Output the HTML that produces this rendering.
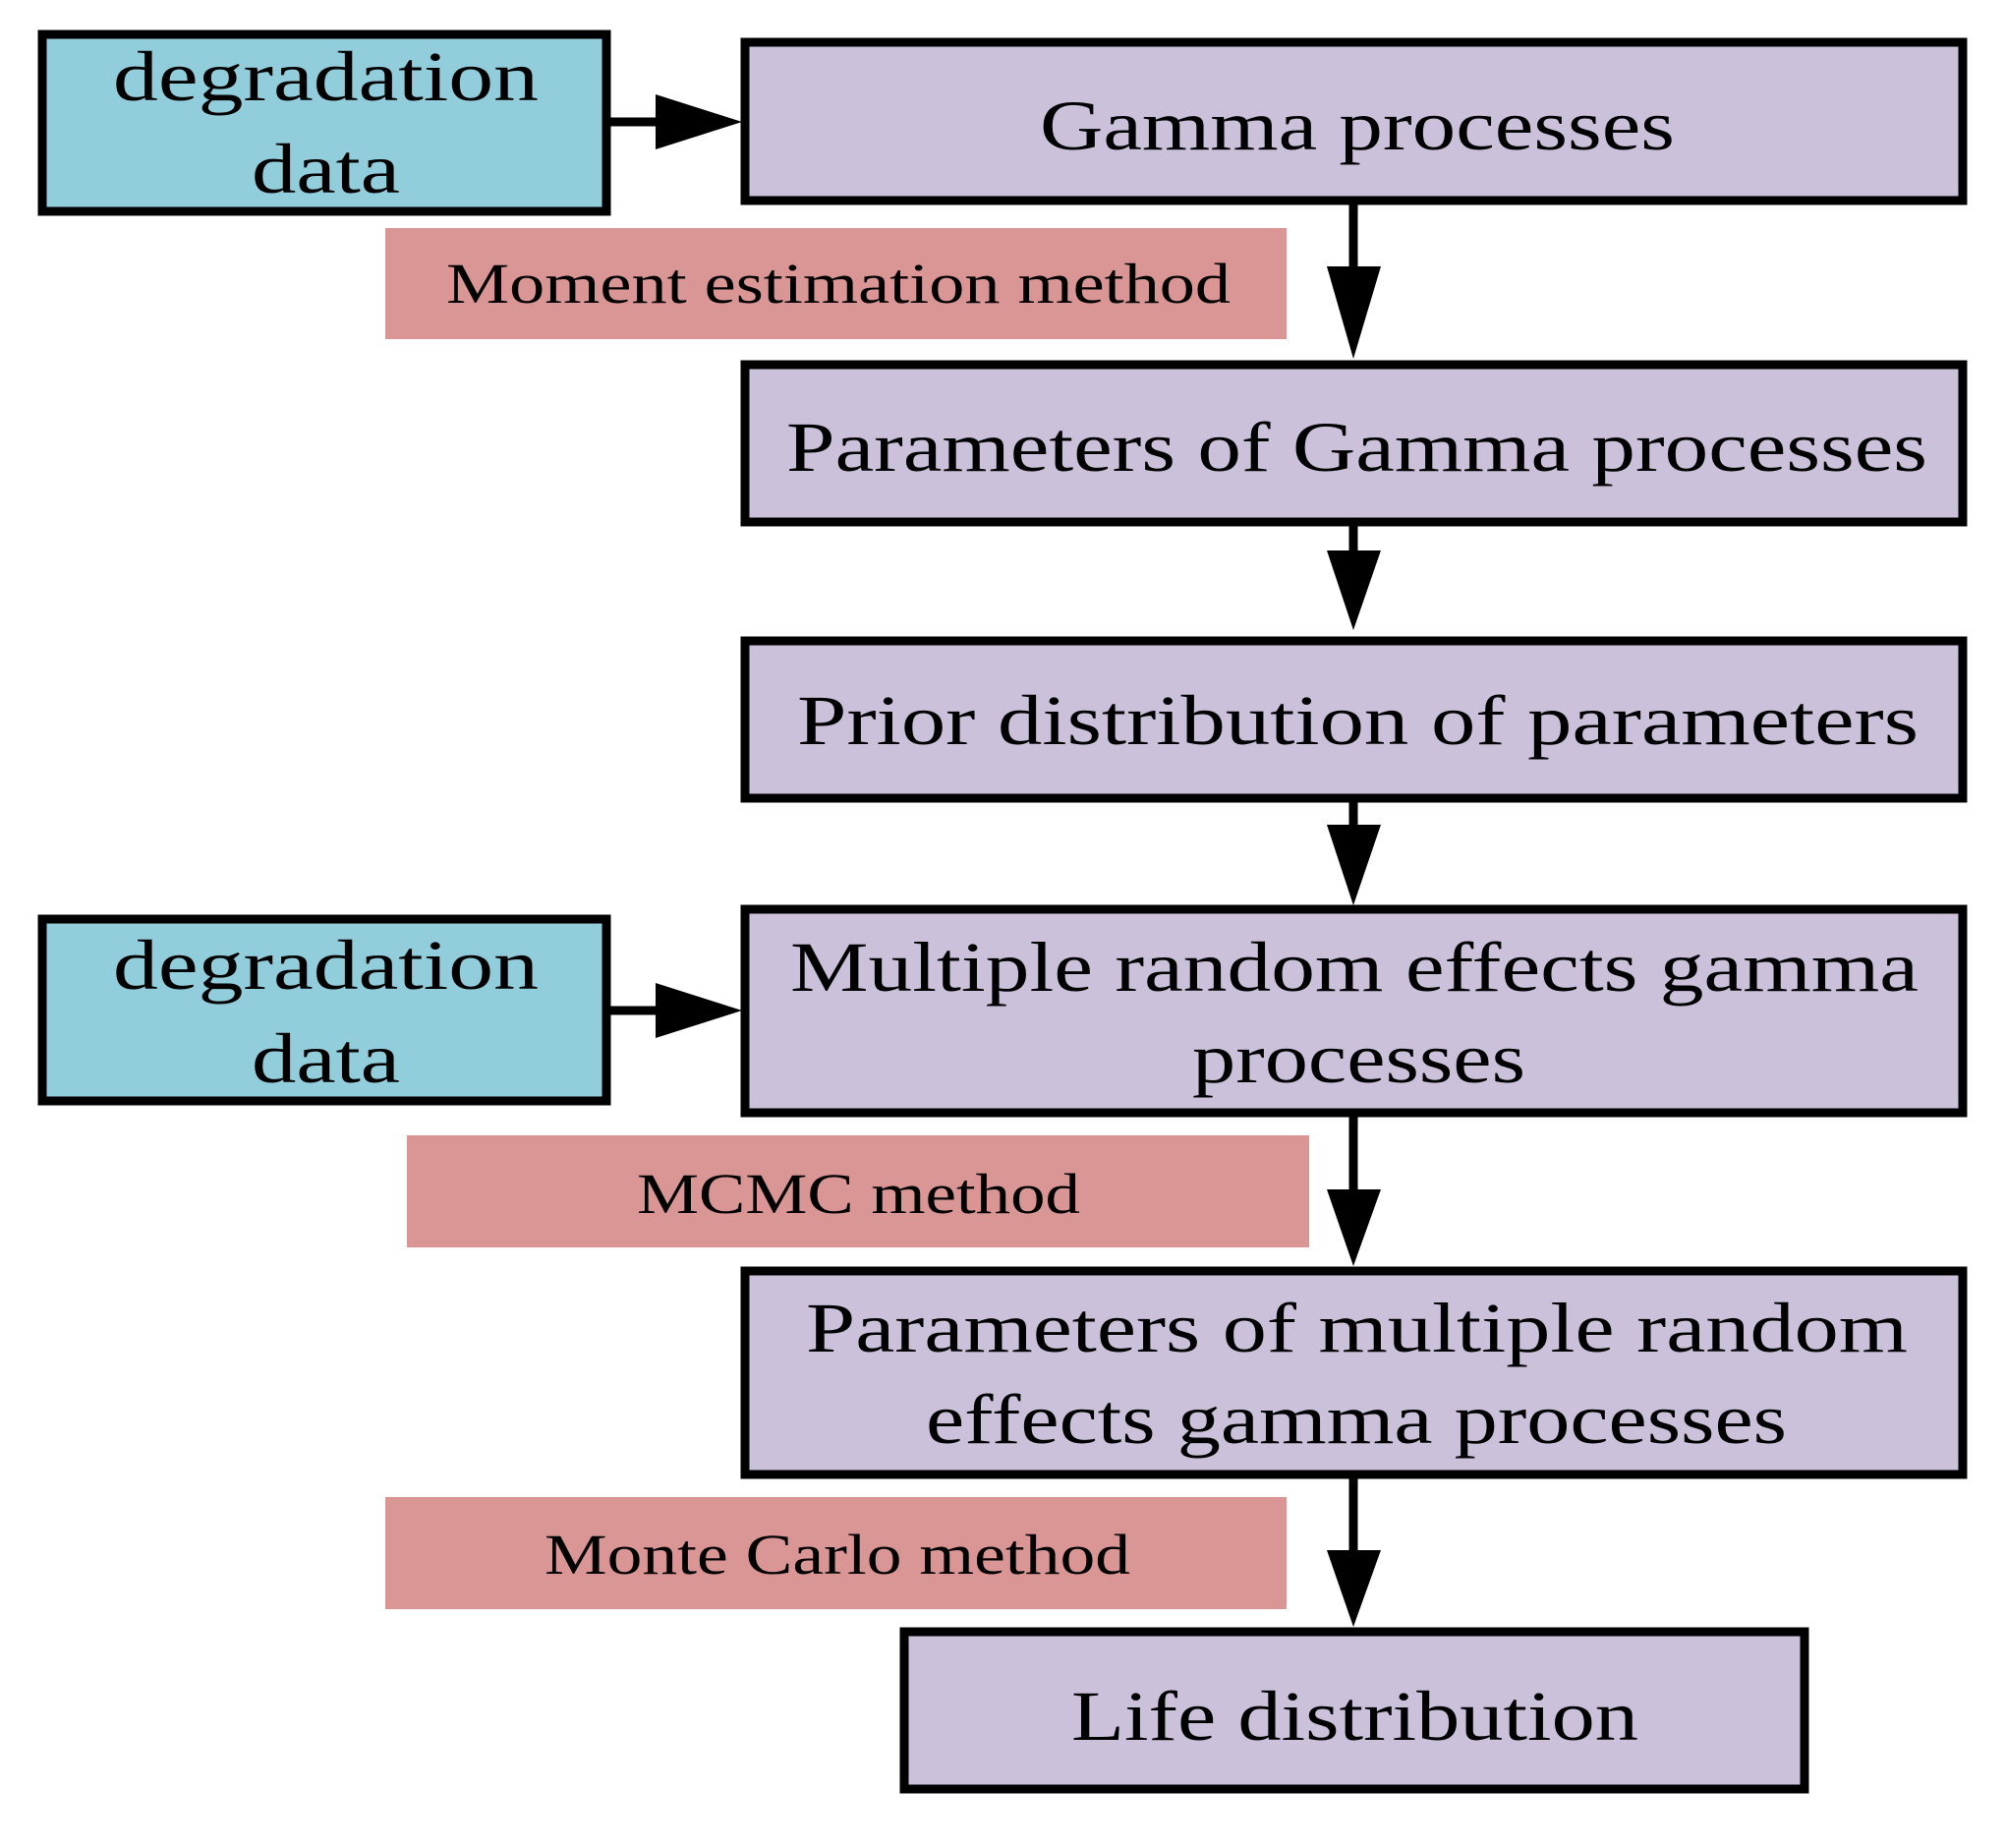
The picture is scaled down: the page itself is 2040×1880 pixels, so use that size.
<!DOCTYPE html>
<html><head><meta charset="utf-8"><style>html,body{margin:0;padding:0;background:#fff}svg{display:block}</style></head>
<body>
<svg width="2040" height="1880" viewBox="0 0 2040 1880" xmlns="http://www.w3.org/2000/svg" font-family="'Liberation Serif', serif" fill="#000">
<g stroke="#000" stroke-width="9">
<rect x="43" y="35" width="574" height="180" fill="#92CDDC"/>
<rect x="758" y="43" width="1239" height="161" fill="#CCC1DA"/>
<rect x="758" y="371" width="1239" height="160" fill="#CCC1DA"/>
<rect x="758" y="652" width="1239" height="160" fill="#CCC1DA"/>
<rect x="758" y="925" width="1239" height="207" fill="#CCC1DA"/>
<rect x="43" y="935" width="574" height="185" fill="#92CDDC"/>
<rect x="758" y="1293" width="1239" height="207" fill="#CCC1DA"/>
<rect x="920" y="1660" width="916" height="160" fill="#CCC1DA"/>
<line x1="617" y1="124" x2="670" y2="124"/>
<line x1="617" y1="1028" x2="670" y2="1028"/>
<line x1="1377" y1="204" x2="1377" y2="275"/>
<line x1="1377" y1="531" x2="1377" y2="562"/>
<line x1="1377" y1="812" x2="1377" y2="842"/>
<line x1="1377" y1="1132" x2="1377" y2="1212"/>
<line x1="1377" y1="1500" x2="1377" y2="1580"/>
</g>
<rect x="392" y="232" width="917" height="113" fill="#D99694"/>
<rect x="414" y="1155" width="918" height="114" fill="#D99694"/>
<rect x="392" y="1523" width="917" height="114" fill="#D99694"/>
<polygon points="667,96 755,124 667,152"/>
<polygon points="667,1000 755,1028 667,1056"/>
<polygon points="1350,271 1405,271 1377,365"/>
<polygon points="1350,560 1405,560 1377,641"/>
<polygon points="1350,839 1405,839 1377,921"/>
<polygon points="1350,1210 1405,1210 1377,1288"/>
<polygon points="1350,1577 1405,1577 1377,1655"/>
<g font-size="72">
<text x="115" y="102" textLength="433" lengthAdjust="spacingAndGlyphs">degradation</text>
<text x="256" y="196" textLength="151" lengthAdjust="spacingAndGlyphs">data</text>
<text x="115" y="1006" textLength="433" lengthAdjust="spacingAndGlyphs">degradation</text>
<text x="256" y="1101" textLength="151" lengthAdjust="spacingAndGlyphs">data</text>
<text x="1058" y="152" textLength="646" lengthAdjust="spacingAndGlyphs">Gamma processes</text>
<text x="800" y="479" textLength="1161" lengthAdjust="spacingAndGlyphs">Parameters of Gamma processes</text>
<text x="811" y="757" textLength="1141" lengthAdjust="spacingAndGlyphs">Prior distribution of parameters</text>
<text x="804" y="1008" textLength="1148" lengthAdjust="spacingAndGlyphs">Multiple random effects gamma</text>
<text x="1213" y="1101" textLength="339" lengthAdjust="spacingAndGlyphs">processes</text>
<text x="820" y="1375" textLength="1121" lengthAdjust="spacingAndGlyphs">Parameters of multiple random</text>
<text x="942" y="1468" textLength="876" lengthAdjust="spacingAndGlyphs">effects gamma processes</text>
<text x="1090" y="1770" textLength="577" lengthAdjust="spacingAndGlyphs">Life distribution</text>
</g>
<g font-size="58">
<text x="454" y="308" textLength="798" lengthAdjust="spacingAndGlyphs">Moment estimation method</text>
<text x="648" y="1234" textLength="451" lengthAdjust="spacingAndGlyphs">MCMC method</text>
<text x="554" y="1601" textLength="596" lengthAdjust="spacingAndGlyphs">Monte Carlo method</text>
</g>
</svg>
</body></html>
